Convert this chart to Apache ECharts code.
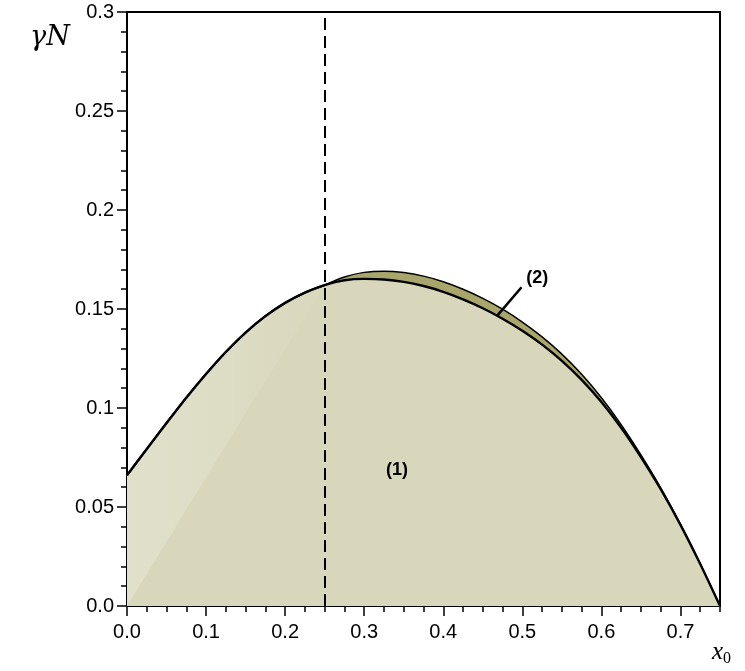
<!DOCTYPE html>
<html>
<head>
<meta charset="utf-8">
<script src="https://cdn.jsdelivr.net/npm/echarts@6/dist/echarts.min.js"></script>
<style>
  html, body { margin: 0; padding: 0; background: #fff; }
  #main { width: 745px; height: 671px; }
</style>
</head>
<body>
<div id="main"></div>
<script>
// x0 grid
var xs = [0, 0.025, 0.05, 0.075, 0.1, 0.125, 0.15, 0.175, 0.2, 0.225, 0.25, 0.275, 0.3, 0.325, 0.35, 0.375,
  0.4, 0.425, 0.45, 0.475, 0.5, 0.525, 0.55, 0.575, 0.6, 0.625, 0.65, 0.675, 0.7, 0.725, 0.75]
// curve (1)
var curve1 = [0.066, 0.0793, 0.0924, 0.1052, 0.1172, 0.1283, 0.1381, 0.1464, 0.1531, 0.1583, 0.1621, 0.1645, 0.1652, 0.1649, 0.1637, 0.1616,
  0.1587, 0.1549, 0.1504, 0.1451, 0.1390, 0.1320, 0.1238, 0.1142, 0.1030, 0.0900, 0.0752, 0.0590, 0.0410, 0.0212, 0]
// curve (2), from x0 = 0.25
var xs2 = [0.25, 0.275, 0.3, 0.325, 0.35, 0.375, 0.4, 0.425, 0.45, 0.475, 0.5, 0.525, 0.55, 0.575, 0.6, 0.625, 0.65, 0.675, 0.7, 0.725, 0.75]
var curve2 = [0.1621, 0.1662, 0.1685, 0.1691, 0.1684, 0.1666, 0.1638, 0.1600, 0.1554, 0.1499, 0.1434, 0.1359, 0.1272, 0.1170, 0.1052,
  0.0916, 0.0763, 0.0597, 0.0413, 0.0213, 0]
var xMajor = [0, 0.1, 0.2, 0.3, 0.4, 0.5, 0.6, 0.7]
var yMajor = [0, 0.05, 0.1, 0.15, 0.2, 0.25, 0.3]
var xCrit = 0.25
var pointer2 = [[0.468, 0.1465], [0.499, 0.161]]
var notes = [{ name: '(1)', value: [0.3415, 0.0687] }, { name: '(2)', value: [0.519, 0.1655] }]

function pairs (a, b) {
  return a.map(function (x, i) { return [x, b[i]] })
}

var c1 = pairs(xs, curve1)
var c2 = pairs(xs2, curve2)
var c1left = c1.filter(function (p) { return p[0] <= xCrit })
// light wedge: fan from origin up to the curve for x0 < 0.25
var wedge = [[0, 0]].concat(c1left)

var myChart = echarts.init(document.getElementById('main'))
var txt = { fontFamily: 'Liberation Sans, Arial, sans-serif', fontSize: 20, color: '#000' }

var option = {
  animation: false,
  grid: { left: 127, right: 25, top: 12, bottom: 65, show: true, borderColor: '#000', borderWidth: 2, backgroundColor: 'transparent' },
  xAxis: [
    {
      type: 'value', min: 0, max: 0.75, interval: 0.1,
      axisLine: { lineStyle: { color: '#000', width: 2 } },
      axisTick: { customValues: xMajor, length: 10, lineStyle: { color: '#000', width: 1.5 } },
      axisLabel: Object.assign({ customValues: xMajor, margin: 16, formatter: function (v) { return v.toFixed(1) } }, txt),
      splitLine: { show: false }
    },
    {
      type: 'value', min: 0, max: 0.75, interval: 0.025, position: 'bottom',
      axisLine: { show: false },
      axisTick: { length: 6, lineStyle: { color: '#000', width: 1.5 } },
      axisLabel: { show: false },
      splitLine: { show: false }
    }
  ],
  yAxis: [
    {
      type: 'value', min: 0, max: 0.3, interval: 0.05,
      axisLine: { lineStyle: { color: '#000', width: 2 } },
      axisTick: { customValues: yMajor, length: 10, lineStyle: { color: '#000', width: 1.5 } },
      axisLabel: Object.assign({ customValues: yMajor, margin: 13, formatter: function (v) { return v === 0 ? '0.0' : String(+v.toFixed(2)) } }, txt),
      splitLine: { show: false }
    },
    {
      type: 'value', min: 0, max: 0.3, interval: 0.01, position: 'left',
      axisLine: { show: false },
      axisTick: { length: 6, lineStyle: { color: '#000', width: 1.5 } },
      axisLabel: { show: false },
      splitLine: { show: false }
    }
  ],
  series: [
    {
      // region (2)
      type: 'line', data: c2, smooth: 0.25, symbol: 'none',
      lineStyle: { color: '#000', width: 1.5 },
      areaStyle: { color: '#a8a66a', opacity: 1 },
      z: 2
    },
    {
      // region (1)
      type: 'line', data: c1, smooth: 0.25, symbol: 'none',
      lineStyle: { color: '#000', width: 2.4 },
      areaStyle: { color: '#d8d7bb', opacity: 1 },
      z: 3,
      markLine: {
        silent: true, symbol: 'none', label: { show: false },
        lineStyle: { color: '#000', width: 2, type: [12, 6] },
        data: [{ xAxis: xCrit }]
      }
    },
    {
      type: 'custom', z: 3,
      data: [0],
      renderItem: function (params, api) {
        var pts = wedge.map(function (p) { return api.coord(p) })
        return {
          type: 'polygon',
          shape: { points: pts, smooth: 0 },
          style: {
            fill: new echarts.graphic.LinearGradient(0, 0, 1, 0, [
              { offset: 0, color: '#e1e0cb' }, { offset: 1, color: '#d9d8bd' }
            ])
          }
        }
      }
    },
    {
      type: 'line', data: c1left, smooth: 0.25, symbol: 'none',
      lineStyle: { color: '#000', width: 2 }, z: 4
    },
    {
      type: 'line', data: pointer2, symbol: 'none',
      lineStyle: { color: '#000', width: 2.5 }, z: 5
    },
    {
      type: 'scatter', data: notes, symbolSize: 0, z: 6,
      itemStyle: { opacity: 1 },
      label: {
        show: true, position: 'inside', formatter: '{b}', opacity: 1,
        fontFamily: 'Liberation Sans, Arial, sans-serif', fontWeight: 'bold', fontSize: 18, color: '#000'
      }
    }
  ],
  graphic: [
    {
      type: 'text', left: 30, top: 24,
      style: { text: 'γN', font: 'italic 27px "DejaVu Serif", "Liberation Serif", serif', fill: '#000' }
    },
    {
      type: 'text', left: 712, top: 640,
      style: {
        text: '{x|x}{s|0}',
        rich: {
          x: { font: 'italic 25px "Liberation Serif", serif', fill: '#000' },
          s: { font: '16px "Liberation Serif", serif', fill: '#000', verticalAlign: 'bottom', padding: [12, 0, 0, 0] }
        }
      }
    }
  ]
}
myChart.setOption(option)
</script>
</body>
</html>
